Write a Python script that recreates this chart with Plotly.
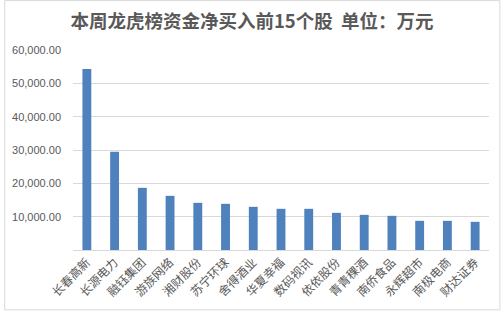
import plotly.graph_objects as go

categories = ["长春高新", "长源电力", "融钰集团", "游族网络", "湘财股份", "苏宁环球", "舍得酒业",
              "华夏幸福", "数码视讯", "依依股份", "青青稞酒", "南侨食品", "永辉超市", "南极电商", "财达证券"]
values = [54300, 29450, 18650, 16250, 14150, 13850, 12950, 12350, 12350, 11150, 10550, 10250, 8750, 8750, 8450]
y_ticks = [0, 10000, 20000, 30000, 40000, 50000, 60000]
y_tick_labels = ["", "10,000.00", "20,000.00", "30,000.00", "40,000.00", "50,000.00", "60,000.00"]

W, H = 504, 312
L, R, T, B = 69.5, 14.5, 50, 61.5
pw = W - L - R
ph = H - T - B

fig = go.Figure(go.Bar(x=categories, y=values, marker_color="#4f81bd", marker_line_width=0, width=0.32))

def px2paper_x(px):
    return (px - L) / pw

def px2paper_y(py):
    return (H - B - py) / ph

fig.update_layout(
    width=W, height=H,
    margin=dict(l=L, r=R, t=T, b=B),
    paper_bgcolor="white", plot_bgcolor="white",
    showlegend=False,
    title=dict(text="本周龙虎榜资金净买入前15个股  单位：万元", x=0.5, xref="container", xanchor="center",
               y=1 - 22 / H, yref="container", yanchor="middle",
               font=dict(family="Noto Sans CJK SC", size=18.5, color="#595959", weight="bold")),
    xaxis=dict(tickangle=-45, tickfont=dict(family="Noto Sans CJK SC", size=12, color="#595959"),
               showgrid=False, showline=False, ticks="", range=[-0.5, 14.5], ticklabelstandoff=2),
    yaxis=dict(range=[0, 60000], tickvals=y_ticks, ticktext=y_tick_labels,
               tickfont=dict(family="Liberation Sans", size=11, color="#595959"),
               showgrid=True, gridcolor="#d9d9d9", gridwidth=1, zeroline=True, zerolinecolor="#d9d9d9",
               zerolinewidth=1, showline=False, ticks="", ticklen=0, ticklabelstandoff=11),
    shapes=[dict(type="rect", xref="paper", yref="paper",
                 x0=px2paper_x(0.5), x1=px2paper_x(500.5), y0=px2paper_y(310.5), y1=px2paper_y(0.5),
                 line=dict(color="#d9d9d9", width=1), layer="below")],
)

fig.write_html("out.html")
